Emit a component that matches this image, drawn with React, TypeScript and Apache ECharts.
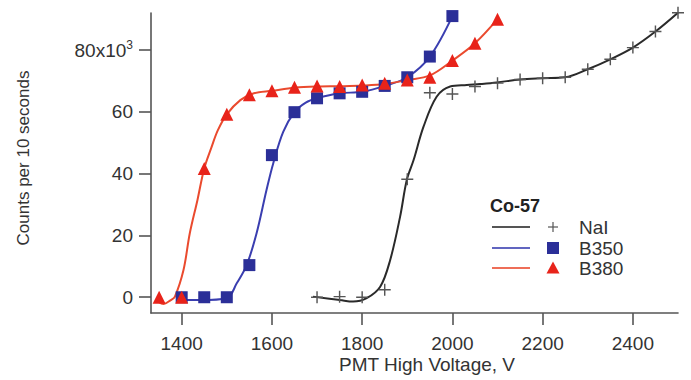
import React, { useEffect, useRef } from "react";
import * as echarts from "echarts";

// Measured points (PMT high voltage, counts per 10 s)
const naiX = [1700, 1750, 1800, 1850, 1900, 1950, 2000, 2050, 2100, 2150, 2200, 2250, 2300, 2350, 2400, 2450, 2500];
const naiY = [0, 200, 0, 2400, 38200, 66200, 65800, 68200, 69300, 70500, 70900, 71200, 73800, 77000, 80800, 86000, 92100];

const b350X = [1400, 1450, 1500, 1550, 1600, 1650, 1700, 1750, 1800, 1850, 1900, 1950, 2000];
const b350Y = [0, 0, 0, 10400, 46000, 59900, 64400, 66000, 66500, 68400, 71200, 77900, 91000];

const b380X = [1350, 1400, 1450, 1500, 1550, 1600, 1650, 1700, 1750, 1800, 1850, 1900, 1950, 2000, 2050, 2100];
const b380Y = [0, 0, 41700, 59200, 65500, 66800, 68000, 68400, 68200, 68700, 69300, 70300, 71200, 76600, 82200, 90000];

// Fitted curves
const naiFitX = [1691, 1751, 1780, 1810, 1840, 1862, 1884, 1899, 1914, 1936, 1965, 1995, 2032, 2061, 2098, 2150, 2200, 2250, 2300, 2350, 2400, 2450, 2500];
const naiFitY = [200, -900, -1400, -300, 3400, 12000, 26000, 38000, 44400, 55200, 64900, 68200, 68700, 69000, 69500, 70500, 70900, 71200, 73800, 77000, 80800, 86000, 92100];

const b350FitX = [1390, 1441, 1500, 1522, 1544, 1566, 1588, 1603, 1625, 1650, 1675, 1700, 1750, 1800, 1850, 1900, 1950, 2000];
const b350FitY = [-800, -900, -300, 4500, 10400, 20700, 34700, 43400, 53500, 59900, 63000, 64400, 66000, 66500, 68400, 71200, 77900, 91000];

const b380FitX = [1348, 1360, 1375, 1385, 1404, 1418, 1435, 1450, 1466, 1480, 1500, 1530, 1560, 1600, 1650, 1700, 1750, 1800, 1850, 1900, 1950, 2000, 2050, 2100];
const b380FitY = [-1400, -2200, -1000, 200, 8800, 20700, 31500, 41700, 48500, 54000, 59200, 63800, 66000, 66800, 67800, 68200, 68300, 68500, 69000, 70300, 71800, 76600, 82200, 90000];

const xTicks = [1400, 1600, 1800, 2000, 2200, 2400];
const yTicks = [0, 20000, 40000, 60000, 80000];

const legendTitle = "Co-57";
const legendNames = ["NaI", "B350", "B380"];

const FONT = "Liberation Sans, Arial, Helvetica, sans-serif";
const TEXT = "#333";
const AXIS = "#555";
const C_NAI_LINE = "#2a2a2a";
const C_NAI_MARK = "#555";
const C_B350_LINE = "#3a3eb0";
const C_B350_MARK = "#2b2f98";
const C_B380_LINE = "#ea4a2e";
const C_B380_MARK = "#e8231a";

const PLUS = "path://M4.4,0H5.6V4.4H10V5.6H5.6V10H4.4V5.6H0V4.4H4.4Z";

const zip = (xs: number[], ys: number[]) => xs.map((x, i) => [x, ys[i]]);

export default function App() {
  const ref = useRef<HTMLDivElement>(null);
  useEffect(() => {
    if (!ref.current) return;
    const chart = echarts.init(ref.current, null, { renderer: "svg" });
    const rowY = [227, 248, 268];
    const lineColors = [C_NAI_LINE, C_B350_LINE, C_B380_LINE];
    const legendEls: any[] = [
      {
        type: "text",
        x: 490,
        y: 206,
        style: { text: legendTitle, font: `bold 18px ${FONT}`, fill: "#222", textVerticalAlign: "middle" },
      },
    ];
    legendNames.forEach((n, i) => {
      const y = rowY[i];
      legendEls.push({
        type: "line",
        shape: { x1: 492, y1: y, x2: 530, y2: y },
        style: { stroke: lineColors[i], lineWidth: 2, opacity: 0.8 },
      });
      if (i === 0) {
        legendEls.push({ type: "line", shape: { x1: 548, y1: y, x2: 558, y2: y }, style: { stroke: C_NAI_MARK, lineWidth: 1.2 } });
        legendEls.push({ type: "line", shape: { x1: 553, y1: y - 5, x2: 553, y2: y + 5 }, style: { stroke: C_NAI_MARK, lineWidth: 1.2 } });
      } else if (i === 1) {
        legendEls.push({ type: "rect", shape: { x: 547, y: y - 6, width: 12, height: 12 }, style: { fill: C_B350_MARK } });
      } else {
        legendEls.push({
          type: "polygon",
          shape: { points: [[553, y - 6.5], [559.5, y + 5.5], [546.5, y + 5.5]] },
          style: { fill: C_B380_MARK },
        });
      }
      legendEls.push({
        type: "text",
        x: 579,
        y,
        style: { text: n, font: `19px ${FONT}`, fill: TEXT, textVerticalAlign: "middle" },
      });
    });

    chart.setOption({
      animation: false,
      grid: { left: 151, right: 13, top: 13, bottom: 67 },
      xAxis: {
        type: "value",
        min: 1332,
        max: 2500,
        axisLine: { show: true, onZero: false, lineStyle: { color: AXIS, width: 1.6 } },
        axisTick: { show: true, customValues: xTicks, length: 12, lineStyle: { color: AXIS, width: 1.6 } },
        axisLabel: { customValues: xTicks, fontSize: 19, fontFamily: FONT, color: TEXT, margin: 21, formatter: (v: number) => String(v) },
        splitLine: { show: false },
      },
      yAxis: {
        type: "value",
        min: -5100,
        max: 92000,
        axisLine: { show: true, onZero: false, lineStyle: { color: AXIS, width: 1.6 } },
        axisTick: { show: true, customValues: yTicks, length: 12, lineStyle: { color: AXIS, width: 1.6 } },
        axisLabel: {
          customValues: yTicks,
          fontSize: 19,
          fontFamily: FONT,
          color: TEXT,
          margin: 18,
          formatter: (v: number) => (v === 80000 ? "{n|80x10}{s|3}" : String(v / 1000)),
          rich: {
            n: { fontSize: 19, fontFamily: FONT, color: TEXT },
            s: { fontSize: 12, fontFamily: FONT, color: TEXT, verticalAlign: "top", padding: [0, 0, 10, 0] },
          },
        },
        splitLine: { show: false },
      },
      series: [
        { type: "line", data: zip(naiFitX, naiFitY), smooth: 0.35, showSymbol: false, lineStyle: { color: C_NAI_LINE, width: 2 }, z: 2 },
        { type: "line", data: zip(b350FitX, b350FitY), smooth: 0.35, showSymbol: false, lineStyle: { color: C_B350_LINE, width: 2 }, z: 2 },
        { type: "line", data: zip(b380FitX, b380FitY), smooth: 0.35, showSymbol: false, lineStyle: { color: C_B380_LINE, width: 2 }, z: 2 },
        { type: "scatter", data: zip(naiX, naiY), symbol: PLUS, symbolSize: 12, clip: false, itemStyle: { color: C_NAI_MARK, opacity: 1 }, z: 3 },
        { type: "scatter", data: zip(b350X, b350Y), symbol: "rect", symbolSize: 12, clip: false, itemStyle: { color: C_B350_MARK, opacity: 1 }, z: 3 },
        { type: "scatter", data: zip(b380X, b380Y), symbol: "triangle", symbolSize: 13, clip: false, itemStyle: { color: C_B380_MARK, opacity: 1 }, z: 3 },
      ],
      graphic: [
        {
          type: "text",
          x: 427,
          y: 364,
          style: { text: "PMT High Voltage, V", font: `19px ${FONT}`, fill: TEXT, textAlign: "center", textVerticalAlign: "middle" },
        },
        {
          type: "text",
          x: 23,
          y: 158,
          rotation: Math.PI / 2,
          style: { text: "Counts per 10 seconds", font: `17px ${FONT}`, fill: TEXT, textAlign: "center", textVerticalAlign: "middle" },
        },
        ...legendEls,
      ],
    });
    return () => chart.dispose();
  }, []);
  return <div ref={ref} style={{ width: 691, height: 380, position: "absolute", left: 0, top: 0 }} />;
}
